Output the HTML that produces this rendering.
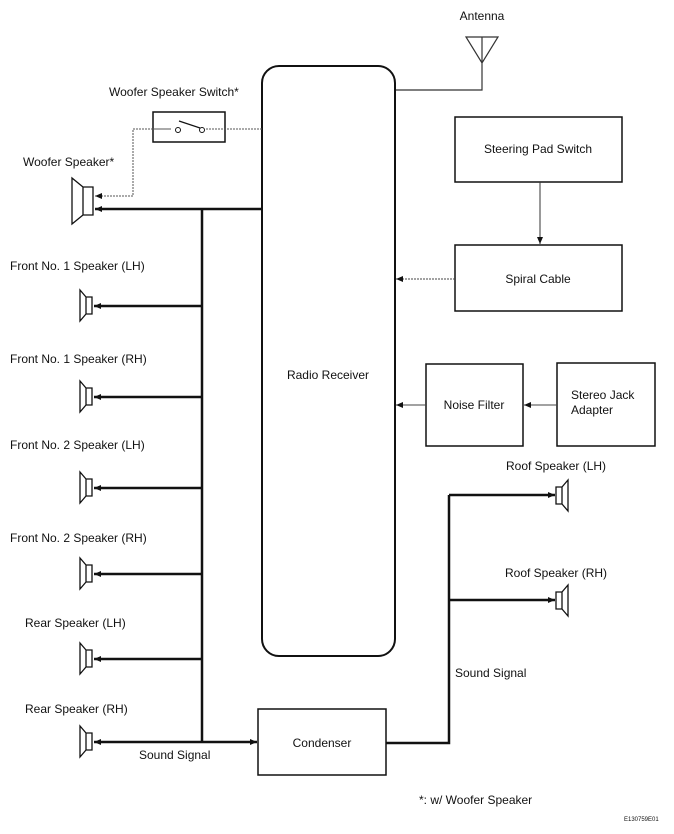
<!DOCTYPE html>
<html><head><style>
html,body{margin:0;padding:0;background:#fff;}
svg{display:block;}
text{font-family:"Liberation Sans",Arial,sans-serif;font-size:12px;fill:#111;}
</style></head><body>
<svg width="674" height="834" viewBox="0 0 674 834" xmlns="http://www.w3.org/2000/svg">
<defs>
<marker id="a" markerWidth="8" markerHeight="8" refX="7" refY="4" orient="auto" markerUnits="userSpaceOnUse"><path d="M0,1 L7,4 L0,7 Z" fill="#111"/></marker>
<g id="spk"><path d="M0,-8 L6,-8 L6,9 L0,9 Z M0,-8 L-6,-15 L-6,16 L0,9" fill="none" stroke="#111" stroke-width="1.3"/></g>
</defs>
<!-- Radio receiver -->
<rect x="262" y="66" width="133" height="590" rx="17" fill="none" stroke="#111" stroke-width="2"/>
<text x="328" y="379" text-anchor="middle">Radio Receiver</text>
<!-- antenna -->
<text x="482" y="20" text-anchor="middle">Antenna</text>
<path d="M466,37 L498,37 L482,63 Z M482,37 L482,90 L396,90" fill="none" stroke="#333" stroke-width="1.2"/>
<!-- Steering pad -->
<rect x="455" y="117" width="167" height="65" fill="none" stroke="#111" stroke-width="1.5"/>
<text x="538" y="153" text-anchor="middle">Steering Pad Switch</text>
<line x1="540" y1="182" x2="540" y2="244" stroke="#333" stroke-width="1" marker-end="url(#a)"/>
<rect x="455" y="245" width="167" height="66" fill="none" stroke="#111" stroke-width="1.5"/>
<text x="538" y="283" text-anchor="middle">Spiral Cable</text>
<line x1="455" y1="279" x2="396" y2="279" stroke="#444" stroke-width="1" stroke-dasharray="2,1" marker-end="url(#a)"/>
<!-- Noise filter -->
<rect x="426" y="364" width="97" height="82" fill="none" stroke="#111" stroke-width="1.5"/>
<text x="474" y="409" text-anchor="middle">Noise Filter</text>
<rect x="557" y="363" width="98" height="83" fill="none" stroke="#111" stroke-width="1.5"/>
<text x="571" y="399">Stereo Jack</text>
<text x="571" y="414">Adapter</text>
<line x1="557" y1="405" x2="524" y2="405" stroke="#444" stroke-width="1" marker-end="url(#a)"/>
<line x1="426" y1="405" x2="396" y2="405" stroke="#444" stroke-width="1" marker-end="url(#a)"/>
<!-- Woofer switch -->
<text x="109" y="96">Woofer Speaker Switch*</text>
<rect x="153" y="112" width="72" height="30" fill="none" stroke="#111" stroke-width="1.5"/>
<line x1="262" y1="129" x2="205" y2="129" stroke="#555" stroke-width="1" stroke-dasharray="2,1"/>
<line x1="171" y1="129" x2="153" y2="129" stroke="#555" stroke-width="1"/>
<circle cx="178" cy="130" r="2.5" fill="#fff" stroke="#111"/>
<circle cx="202" cy="130" r="2.5" fill="#fff" stroke="#111"/>
<line x1="179" y1="121" x2="200" y2="128" stroke="#111" stroke-width="1.2"/>
<path d="M153,129 L133,129 L133,196 L95,196" fill="none" stroke="#555" stroke-width="1" stroke-dasharray="2,1" marker-end="url(#a)"/>
<!-- Woofer speaker -->
<text x="23" y="166">Woofer Speaker*</text>
<path d="M83,187 L93,187 L93,215 L83,215 Z M83,187 L72,178 L72,224 L83,215" fill="none" stroke="#111" stroke-width="1.3"/>
<!-- main bus -->
<line x1="262" y1="209" x2="95" y2="209" stroke="#111" stroke-width="2.5" marker-end="url(#a)"/>
<line x1="202" y1="209" x2="202" y2="743" stroke="#111" stroke-width="2.5"/>
<g stroke="#111" stroke-width="2.5" marker-end="url(#a)">
<line x1="202" y1="306" x2="94" y2="306"/>
<line x1="202" y1="397" x2="94" y2="397"/>
<line x1="202" y1="488" x2="94" y2="488"/>
<line x1="202" y1="574" x2="94" y2="574"/>
<line x1="202" y1="659" x2="94" y2="659"/>
<line x1="202" y1="742" x2="94" y2="742"/>
<line x1="202" y1="742" x2="257" y2="742"/>
</g>
<use href="#spk" x="86" y="305"/>
<use href="#spk" x="86" y="396"/>
<use href="#spk" x="86" y="487"/>
<use href="#spk" x="86" y="573"/>
<use href="#spk" x="86" y="658"/>
<use href="#spk" x="86" y="741"/>
<text x="10" y="270">Front No. 1 Speaker (LH)</text>
<text x="10" y="363">Front No. 1 Speaker (RH)</text>
<text x="10" y="449">Front No. 2 Speaker (LH)</text>
<text x="10" y="542">Front No. 2 Speaker (RH)</text>
<text x="25" y="627">Rear Speaker (LH)</text>
<text x="25" y="713">Rear Speaker (RH)</text>
<text x="139" y="759">Sound Signal</text>
<!-- condenser -->
<rect x="258" y="709" width="128" height="66" fill="none" stroke="#111" stroke-width="1.5"/>
<text x="322" y="747" text-anchor="middle">Condenser</text>
<path d="M386,743 L449,743 L449,495" fill="none" stroke="#111" stroke-width="2.5"/>
<g stroke="#111" stroke-width="2.5" marker-end="url(#a)">
<line x1="449" y1="495" x2="555" y2="495"/>
<line x1="449" y1="600" x2="555" y2="600"/>
</g>
<g transform="translate(562,495) scale(-1,1)"><use href="#spk"/></g>
<g transform="translate(562,600) scale(-1,1)"><use href="#spk"/></g>
<text x="506" y="470">Roof Speaker (LH)</text>
<text x="505" y="577">Roof Speaker (RH)</text>
<text x="455" y="677">Sound Signal</text>
<text x="419" y="804">*: w/ Woofer Speaker</text>
<text x="624" y="821" style="font-size:6px">E130759E01</text>
</svg>
</body></html>
